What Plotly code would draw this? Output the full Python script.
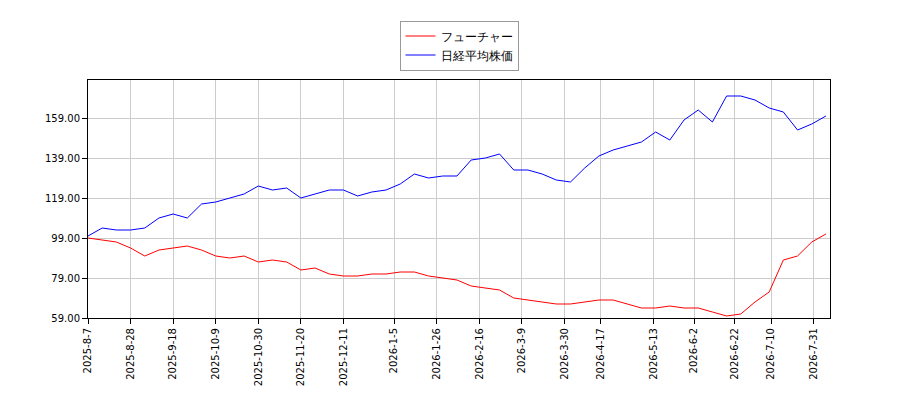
import pandas as pd
import plotly.graph_objects as go

dates = pd.date_range("2025-08-07", "2026-08-06", freq="7D")
future = [99, 98, 97, 94, 90, 93, 94, 95, 93, 90, 89, 90, 87, 88, 87, 83, 84, 81, 80, 80, 81, 81,
          82, 82, 80, 79, 78, 75, 74, 73, 69, 68, 67, 66, 66, 67, 68, 68, 66, 64, 64, 65, 64, 64,
          62, 60, 61, 67, 72, 88, 90, 97, 101]
nikkei = [100, 104, 103, 103, 104, 109, 111, 109, 116, 117, 119, 121, 125, 123, 124, 119, 121, 123,
          123, 120, 122, 123, 126, 131, 129, 130, 130, 138, 139, 141, 133, 133, 131, 128, 127, 134,
          140, 143, 145, 147, 152, 148, 158, 163, 157, 170, 170, 168, 164, 162, 153, 156, 160]

tick_text = ["2025-8-7", "2025-8-28", "2025-9-18", "2025-10-9", "2025-10-30", "2025-11-20",
             "2025-12-11", "2026-1-5", "2026-1-26", "2026-2-16", "2026-3-9", "2026-3-30",
             "2026-4-17", "2026-5-13", "2026-6-2", "2026-6-22", "2026-7-10", "2026-7-31"]
tick_dates = pd.to_datetime(tick_text)

fig = go.Figure()
fig.add_trace(go.Scatter(x=dates, y=future, mode="lines", name="フューチャー",
                         line=dict(color="red", width=1)))
fig.add_trace(go.Scatter(x=dates, y=nikkei, mode="lines", name="日経平均株価",
                         line=dict(color="blue", width=1)))

axis = dict(showline=True, linecolor="black", mirror=True, gridcolor="#cccccc",
            ticks="outside", tickcolor="black", zeroline=False, automargin=False)
fig.update_layout(
    width=900, height=400, plot_bgcolor="white", paper_bgcolor="white",
    margin=dict(l=80, r=78, t=70, b=90),
    font=dict(family="DejaVu Sans", size=10, color="black"),
    legend=dict(x=0.5, y=1.25, xanchor="center", yanchor="top", bordercolor="#999", borderwidth=1,
                font=dict(size=12)),
    xaxis=dict(axis, tickvals=tick_dates, ticktext=tick_text, tickangle=-90,
               range=[pd.Timestamp("2025-08-07"), pd.Timestamp("2026-08-08")]),
    yaxis=dict(axis, tickvals=[59, 79, 99, 119, 139, 159],
               ticktext=["59.00", "79.00", "99.00", "119.00", "139.00", "159.00"],
               range=[59, 178]),
)
fig.write_html("out.html")
